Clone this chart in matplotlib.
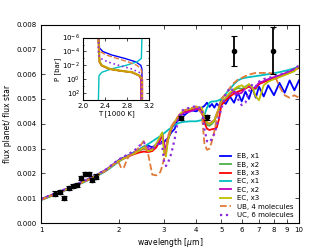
import numpy as np
import matplotlib
matplotlib.use('Agg')
import matplotlib.pyplot as plt

# wavelength grid [micron] shared by the model spectra
wl = [1.0, 1.1, 1.2, 1.3, 1.4, 1.5, 1.6, 1.7, 1.8, 1.9,
      2.0, 2.05, 2.1, 2.15, 2.2, 2.3, 2.4, 2.5, 2.6, 2.7,
      2.8, 2.9, 2.95, 3.0, 3.05, 3.1, 3.2, 3.3, 3.4, 3.5,
      3.6, 3.8, 4.0, 4.2, 4.3, 4.4, 4.5, 4.6, 4.7, 4.8,
      4.9, 5.0, 5.2, 5.4, 5.6, 5.8, 6.0, 6.2, 6.4, 6.6,
      6.8, 7.0, 7.3, 7.6, 8.0, 8.4, 8.8, 9.2, 9.6, 10.0]

# flux ratios in units of 1e-3
eb_x1 = [0.96, 1.13, 1.29, 1.44, 1.59, 1.74, 1.88, 2.02, 2.17, 2.36,
         2.53, 2.60, 2.64, 2.70, 2.75, 2.86, 2.96, 3.08, 3.12, 3.05,
         3.16, 3.20, 3.30, 3.25, 3.35, 3.40, 3.65, 3.80, 4.25, 4.40,
         4.35, 4.55, 4.50, 4.65, 4.72, 4.85, 4.68, 4.80, 4.65, 4.82,
         4.70, 4.95, 4.80, 5.10, 4.85, 5.25, 4.90, 5.30, 5.00, 5.45,
         5.05, 5.50, 5.10, 5.55, 5.15, 5.65, 5.25, 5.75, 5.35, 5.75]
eb_x2 = [0.95, 1.12, 1.28, 1.43, 1.58, 1.72, 1.86, 2.00, 2.15, 2.33,
         2.50, 2.57, 2.62, 2.68, 2.72, 2.80, 2.90, 3.00, 2.92, 2.98,
         3.12, 3.40, 3.58, 3.05, 2.80, 3.30, 3.80, 4.05, 4.25, 4.42,
         4.52, 4.58, 4.65, 4.60, 4.20, 3.95, 3.92, 4.00, 4.10, 4.35,
         4.60, 4.85, 5.00, 5.20, 5.35, 5.45, 5.40, 5.50, 5.58, 5.45,
         5.40, 5.62, 5.70, 5.78, 5.85, 5.92, 6.00, 6.08, 6.18, 6.28]
eb_x3 = [0.94, 1.11, 1.27, 1.42, 1.57, 1.71, 1.85, 1.99, 2.14, 2.32,
         2.49, 2.55, 2.60, 2.65, 2.70, 2.78, 2.84, 2.88, 2.86, 2.90,
         3.05, 3.35, 3.55, 3.15, 2.95, 3.35, 3.80, 4.05, 4.25, 4.40,
         4.50, 4.55, 4.60, 4.55, 4.05, 3.80, 3.75, 3.78, 3.80, 3.85,
         4.20, 4.75, 4.95, 5.10, 5.22, 5.30, 5.35, 5.42, 5.50, 5.40,
         5.45, 5.60, 5.68, 5.75, 5.82, 5.90, 5.98, 6.06, 6.16, 6.26]
ec_x1 = [0.92, 1.09, 1.25, 1.40, 1.55, 1.69, 1.83, 1.97, 2.12, 2.30,
         2.47, 2.55, 2.62, 2.68, 2.74, 2.85, 2.96, 3.07, 3.18, 3.29,
         3.40, 3.50, 3.56, 3.62, 3.68, 3.74, 3.85, 3.95, 4.02, 4.06,
         4.08, 4.10, 4.10, 4.15, 4.35, 4.65, 4.85, 4.90, 4.90, 4.92,
         4.95, 5.00, 5.20, 5.40, 5.60, 5.75, 5.82, 5.86, 5.88, 5.90,
         5.92, 5.94, 5.97, 6.00, 6.04, 6.08, 6.13, 6.18, 6.24, 6.30]
ec_x2 = [0.95, 1.12, 1.28, 1.43, 1.58, 1.72, 1.86, 2.01, 2.16, 2.34,
         2.51, 2.58, 2.63, 2.69, 2.73, 2.82, 2.93, 3.02, 2.96, 3.00,
         3.15, 3.42, 3.60, 3.20, 2.92, 3.38, 3.82, 4.05, 4.22, 4.38,
         4.45, 4.50, 4.60, 4.62, 4.25, 4.05, 4.00, 4.08, 4.15, 4.40,
         4.62, 4.88, 5.02, 5.22, 5.30, 5.20, 5.25, 5.45, 5.55, 5.40,
         5.50, 5.65, 5.72, 5.80, 5.88, 5.95, 6.03, 6.10, 6.20, 6.30]
ec_x3 = [0.94, 1.11, 1.27, 1.42, 1.57, 1.71, 1.85, 2.00, 2.15, 2.33,
         2.50, 2.56, 2.61, 2.67, 2.72, 2.80, 2.92, 3.05, 2.90, 2.95,
         3.20, 3.50, 3.65, 2.80, 2.68, 3.30, 3.85, 4.08, 4.28, 4.45,
         4.55, 4.60, 4.68, 4.65, 4.30, 4.05, 4.00, 4.05, 4.15, 4.40,
         4.65, 4.90, 5.05, 5.25, 5.40, 5.50, 5.55, 5.45, 5.60, 5.45,
         5.10, 4.95, 5.55, 5.70, 5.80, 5.88, 5.96, 6.04, 6.12, 6.32]
ub_4mol = [0.93, 1.10, 1.26, 1.41, 1.56, 1.70, 1.84, 1.98, 2.14, 2.35,
           2.45, 2.20, 2.25, 2.55, 2.70, 2.85, 3.05, 3.30, 2.80, 1.95,
           1.92, 2.05, 2.30, 2.60, 3.00, 3.45, 3.90, 4.10, 4.30, 4.45,
           4.55, 4.62, 4.70, 4.40, 3.20, 2.95, 3.00, 3.30, 3.70, 4.20,
           4.70, 5.00, 5.20, 5.45, 5.65, 5.78, 5.85, 5.92, 5.98, 6.02,
           6.05, 6.05, 6.05, 6.05, 6.02, 5.50, 5.15, 5.05, 5.15, 5.05]
uc_6mol = [0.97, 1.14, 1.30, 1.45, 1.60, 1.74, 1.88, 2.03, 2.18, 2.38,
           2.56, 2.62, 2.68, 2.74, 2.80, 2.92, 3.10, 3.25, 3.05, 3.00,
           3.10, 3.30, 3.10, 2.50, 2.30, 2.40, 2.80, 3.40, 4.20, 4.50,
           4.60, 4.65, 4.72, 4.60, 3.80, 3.30, 3.25, 3.40, 3.60, 3.90,
           4.30, 4.60, 5.20, 5.45, 5.30, 5.00, 4.75, 4.85, 5.30, 5.60,
           5.50, 5.70, 5.80, 5.85, 5.90, 5.97, 6.05, 6.12, 6.22, 6.35]

# observations
obs_wl = [1.13, 1.18, 1.23, 1.28, 1.33, 1.38, 1.43, 1.48, 1.53, 1.58, 1.63,
          3.5, 4.4, 5.6, 7.9]
obs_f = [1.17, 1.26, 1.00, 1.42, 1.50, 1.53, 1.83, 1.96, 1.96, 1.75, 1.87,
         4.22, 4.26, 6.94, 6.94]
obs_err = [0.10, 0.08, 0.08, 0.07, 0.07, 0.07, 0.08, 0.08, 0.08, 0.08, 0.09,
           0.08, 0.10, 0.60, 0.95]

# P-T profiles for the inset: log10(P [bar]) and T [1000 K]
pt_eb1_logp = [-6, -4.5, -4, -3.5, -3, -2.5, -2, -1.5, 3]
pt_eb1_t = [2.29, 2.30, 2.36, 2.52, 2.76, 2.96, 3.05, 3.07, 3.07]
pt_eb2_logp = [-6, -2.5, -2, -1.5, -1.25, -1, -0.5, 0, 3]
pt_eb2_t = [2.28, 2.30, 2.34, 2.48, 2.66, 2.90, 3.03, 3.06, 3.06]
pt_eb3_logp = [-6, -2.5, -2, -1.5, -1.25, -1, -0.5, 0, 3]
pt_eb3_t = [2.28, 2.30, 2.33, 2.46, 2.64, 2.88, 3.03, 3.08, 3.08]
pt_ec1_logp = [-6, -3, -2.5, -2, -1.5, -1, -0.5, 3]
pt_ec1_t = [3.07, 3.06, 2.98, 2.78, 2.52, 2.34, 2.29, 2.28]
pt_ec2_logp = [-6, -2.5, -2, -1.5, -1.25, -1, -0.5, 0, 3]
pt_ec2_t = [2.28, 2.30, 2.34, 2.47, 2.65, 2.89, 3.02, 3.05, 3.05]
pt_ec3_logp = [-6, -2.5, -2, -1.5, -1.25, -1, -0.5, 0, 3]
pt_ec3_t = [2.28, 2.30, 2.34, 2.48, 2.66, 2.90, 3.03, 3.07, 3.07]
pt_ub_logp = [-6, -4.5, -4, -3.5, -3, -2.5, -2, -1.5, -1, 3]
pt_ub_t = [2.28, 2.28, 2.31, 2.42, 2.62, 2.82, 2.98, 3.05, 3.07, 3.07]
pt_uc_logp = [-6, -3.5, -3, -2.5, -2, -1.5, -1, -0.5, 3]
pt_uc_t = [2.28, 2.28, 2.32, 2.45, 2.65, 2.88, 3.02, 3.07, 3.07]

plt.rcParams['font.size'] = 5
fig = plt.figure(figsize=(3.32, 2.49), dpi=100)
ax = fig.add_axes([0.1235, 0.1044, 0.777, 0.797])

wl_a = np.array(wl)
series = [
    (eb_x1, 'b', '-', 'EB, x1'),
    (eb_x2, '#4daf4a', '-', 'EB, x2'),
    (eb_x3, 'r', '-', 'EB, x3'),
    (ec_x1, 'c', '-', 'EC, x1'),
    (ec_x2, 'm', '-', 'EC, x2'),
    (ec_x3, 'y', '-', 'EC, x3'),
    (ub_4mol, '#e07b39', '--', 'UB, 4 molecules'),
    (uc_6mol, '#8a2be2', ':', 'UC, 6 molecules'),
]
for vals, col, ls, lab in series:
    lw = 1.6 if ls == ':' else 1.3
    ax.plot(wl_a, np.array(vals) * 1e-3, color=col, ls=ls, lw=lw, label=lab)

ax.errorbar(obs_wl, np.array(obs_f) * 1e-3, yerr=np.array(obs_err) * 1e-3,
            fmt='o', color='k', ms=3, elinewidth=1.3, capsize=2, capthick=0.8)

ax.set_xscale('log')
ax.set_xlim(1, 10)
ax.set_ylim(0, 0.008)
ticks = [1, 2, 3, 4, 5, 6, 7, 8, 9, 10]
ax.set_xticks(ticks)
ax.set_xticklabels([str(t) for t in ticks])
ax.xaxis.set_minor_locator(matplotlib.ticker.NullLocator())
ax.set_yticks(np.arange(0, 0.0081, 0.001))
ax.set_yticklabels(['%.3f' % v for v in np.arange(0, 0.0081, 0.001)])
ax.tick_params(direction='in', top=True, right=True, length=3, width=0.5, pad=3)
for s in ax.spines.values():
    s.set_linewidth(0.8)
ax.set_xlabel(r'wavelength [$\mu$m]', fontsize=5.5, labelpad=2)
ax.set_ylabel('flux planet/ flux star', fontsize=5.5, labelpad=3)
leg = ax.legend(loc='lower right', frameon=False, fontsize=5, handlelength=1.5,
                labelspacing=0.35, borderaxespad=0.3, handletextpad=1.0)

# inset with the P-T profiles
ins = fig.add_axes([0.25, 0.598, 0.199, 0.251])
profiles = [
    (pt_eb1_logp, pt_eb1_t, 'b', '-', 1.0),
    (pt_eb2_logp, pt_eb2_t, '#4daf4a', '-', 1.0),
    (pt_eb3_logp, pt_eb3_t, 'r', '-', 1.0),
    (pt_ec1_logp, pt_ec1_t, 'c', '-', 1.0),
    (pt_ec2_logp, pt_ec2_t, 'm', '-', 1.0),
    (pt_ec3_logp, pt_ec3_t, '#c8a000', '-', 1.6),
    (pt_ub_logp, pt_ub_t, '#e07b39', '--', 1.0),
    (pt_uc_logp, pt_uc_t, '#8a2be2', ':', 1.2),
]
for lp, t, col, ls, lw in profiles:
    ins.plot(t, 10.0 ** np.array(lp), color=col, ls=ls, lw=lw)
ins.set_yscale('log')
ins.set_ylim(1e3, 1e-6)
ins.set_xlim(2.0, 3.2)
ins.set_xticks([2.0, 2.4, 2.8, 3.2])
ins.set_yticks([1e-6, 1e-4, 1e-2, 1e0, 1e2])
ins.set_yticklabels([r'$10^{-6}$', r'$10^{-4}$', r'$10^{-2}$', r'$10^{0}$', r'$10^{2}$'])
ins.yaxis.set_minor_locator(matplotlib.ticker.FixedLocator([1e-5, 1e-3, 1e-1, 1e1, 1e3]))
ins.yaxis.set_minor_formatter(matplotlib.ticker.NullFormatter())
ins.tick_params(direction='in', top=True, right=True, length=2, width=0.5, pad=2, labelsize=5)
ins.tick_params(which='minor', direction='in', top=True, right=True, length=1, width=0.5)
ins.set_xlabel('T [1000 K]', fontsize=5, labelpad=1)
ins.set_ylabel('P [bar]', fontsize=5, labelpad=1)

fig.savefig('out.png', dpi=100)
